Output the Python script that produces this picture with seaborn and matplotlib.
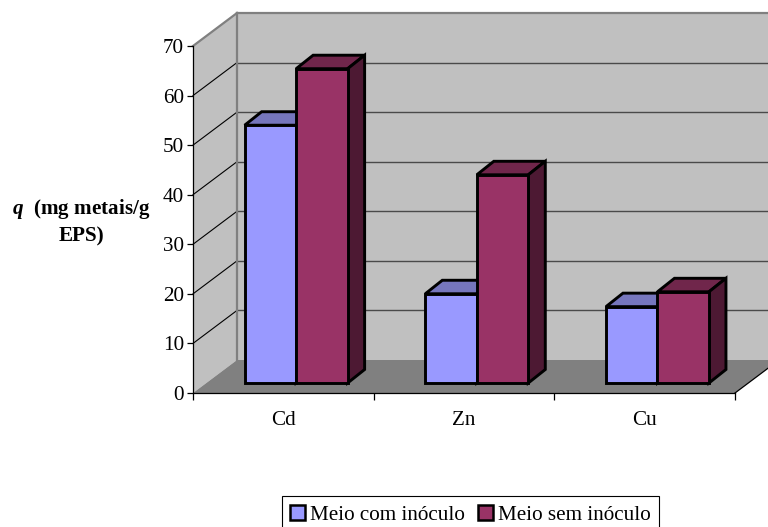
import matplotlib
matplotlib.use("Agg")
import matplotlib.pyplot as plt
import pandas as pd
import seaborn as sns
from matplotlib.patches import Polygon, Rectangle
from matplotlib.lines import Line2D
from matplotlib.transforms import Affine2D, IdentityTransform

metals = ["Cd", "Zn", "Cu"]
with_inoculum = [52, 18, 15.4]
without_inoculum = [63.4, 42, 18.4]
series_names = ["Meio com inóculo", "Meio sem inóculo"]
y_ticks = [0, 10, 20, 30, 40, 50, 60, 70]

face_colors = ["#9999FF", "#993366"]
top_colors = ["#7676BD", "#70264B"]
side_colors = ["#4D4D80", "#4D1933"]
WALL = "#C0C0C0"
FLOOR = "#808080"

# Pixel offsets of the fake 3D projection
WALL_DX, WALL_DY = 44, 33
BAR_SHIFT_X, BAR_SHIFT_Y = 12.8, 10
BAR_DX, BAR_DY = 17, 13.5

W, H = 768, 527
plt.rcParams["font.family"] = "Liberation Serif"
plt.rcParams["mathtext.fontset"] = "custom"
plt.rcParams["mathtext.bfit"] = "Liberation Serif:italic:bold"
plt.rcParams["mathtext.it"] = "Liberation Serif:italic"
plt.rcParams["mathtext.rm"] = "Liberation Serif"
plt.rcParams["mathtext.bf"] = "Liberation Serif:bold"

fig = plt.figure(figsize=(W / 100, H / 100), dpi=100, facecolor="white")
ax = fig.add_axes([193 / W, (H - 393) / H, (735 - 193) / W, (393 - 46) / H])

df = pd.DataFrame({
    "metal": metals * 2,
    "q": with_inoculum + without_inoculum,
    "serie": [series_names[0]] * 3 + [series_names[1]] * 3,
})
sns.barplot(data=df, x="metal", y="q", hue="serie", palette=face_colors, width=0.57,
            gap=0, edgecolor="black", linewidth=2.1, saturation=1, ax=ax, legend=False,
            errorbar=None)
ax.set_xlim(-0.5, 2.5)
ax.set_ylim(0, 70)
fig.canvas.draw()

to_px = ax.transData.transform


def px(x, y, dx=0, dy=0):
    a, b = to_px((x, y))
    return (a + dx, b + dy)


def add_poly(verts, zorder, **kw):
    ax.add_patch(Polygon(verts, closed=True, transform=IdentityTransform(),
                         clip_on=False, zorder=zorder, **kw))


def add_line(p, q, zorder, **kw):
    ax.add_line(Line2D([p[0], q[0]], [p[1], q[1]], transform=IdentityTransform(),
                       clip_on=False, zorder=zorder, **kw))


# Walls and floor
x0, x1 = ax.get_xlim()
y0, y1 = ax.get_ylim()
add_poly([px(x0, y0), px(x0, y0, WALL_DX, WALL_DY), px(x1, y0, WALL_DX, WALL_DY),
          px(x1, y1, WALL_DX, WALL_DY), px(x0, y1, WALL_DX, WALL_DY), px(x0, y1)],
         0.2, facecolor=WALL, edgecolor="none")
add_poly([px(x0, y0), px(x1, y0), px(x1, y0, WALL_DX, WALL_DY), px(x0, y0, WALL_DX, WALL_DY)],
         0.3, facecolor=FLOOR, edgecolor="none")
add_line(px(x1, y0), px(x1, y0, WALL_DX, WALL_DY), 0.4, color="black", lw=0.9)

# Gridlines across the side wall and the back wall
for v in y_ticks[1:]:
    if v < 70:
        add_line(px(x0, v), px(x0, v, WALL_DX, WALL_DY), 0.5, color="black", lw=0.8)
        add_line(px(x0, v, WALL_DX, WALL_DY), px(x1, v, WALL_DX, WALL_DY), 0.5,
                 color="#4A4A4A", lw=1.0)
add_line(px(x0, y1), px(x0, y1, WALL_DX, WALL_DY), 0.6, color=FLOOR, lw=1.6)
add_line(px(x0, y1, WALL_DX, WALL_DY), px(x1, y1, WALL_DX, WALL_DY), 0.6, color=FLOOR, lw=1.6)
add_line(px(x0, y0, WALL_DX, WALL_DY), px(x0, y1, WALL_DX, WALL_DY), 0.6, color=FLOOR, lw=1.6)

# Front faces come from the bar plot; lift them onto the floor and add top and side faces
shift = Affine2D().translate(BAR_SHIFT_X, BAR_SHIFT_Y)
bars = [p for p in ax.patches if isinstance(p, Rectangle)]
for i, bar in enumerate(bars[:6]):
    series = i // 3
    z = 2 + series
    left, right = bar.get_x(), bar.get_x() + bar.get_width()
    top = bar.get_height()
    bar.set_transform(ax.transData + shift)
    bar.set_clip_on(False)
    bar.set_zorder(z + 0.2)
    bar.set_joinstyle("miter")
    sx, sy = BAR_SHIFT_X, BAR_SHIFT_Y
    add_poly([px(left, top, sx, sy), px(right, top, sx, sy),
              px(right, top, sx + BAR_DX, sy + BAR_DY), px(left, top, sx + BAR_DX, sy + BAR_DY)],
             z, facecolor=top_colors[series], edgecolor="black", linewidth=2.1, joinstyle="miter")
    add_poly([px(right, 0, sx, sy), px(right, top, sx, sy),
              px(right, top, sx + BAR_DX, sy + BAR_DY), px(right, 0, sx + BAR_DX, sy + BAR_DY)],
             z, facecolor=side_colors[series], edgecolor="black", linewidth=2.1, joinstyle="miter")

# Axes: ticks sit on category boundaries, labels at category centres
sns.despine(ax=ax, top=True, right=True)
ax.patch.set_visible(False)
for s in ("left", "bottom"):
    ax.spines[s].set_linewidth(0.9)
    ax.spines[s].set_zorder(1)
ax.set_yticks(y_ticks)
ax.set_xticks([-0.5, 0.5, 1.5, 2.5], labels=[""] * 4)
ax.set_xticks([0, 1, 2], labels=metals, minor=True)
ax.tick_params(axis="x", which="major", length=5, width=0.9, color="black")
ax.tick_params(axis="x", which="minor", length=0, pad=13, labelsize=15.2)
ax.tick_params(axis="y", length=4.5, width=0.9, pad=2, labelsize=15.2)
ax.set_xlabel("")
ax.set_ylabel("")

fig.text(81 / W, 1 - 221.5 / H, r"$\mathbfit{q}$  (mg metais/g" + "\nEPS)", ha="center", va="center",
         fontsize=15.2, fontweight="bold", linespacing=1.37, multialignment="center")

handles = [Rectangle((0, 0), 1, 1, facecolor=c, edgecolor="black", linewidth=1.8) for c in face_colors]
leg = fig.legend(handles, series_names, loc="lower left", bbox_to_anchor=(282 / W, -6 / H),
                 bbox_transform=fig.transFigure, ncol=2, frameon=True, fancybox=False,
                 edgecolor="black", framealpha=1, fontsize=15.2, handlelength=0.7,
                 handleheight=0.7, handletextpad=0.25, columnspacing=0.6, borderpad=0.4,
                 borderaxespad=0)
leg.get_frame().set_linewidth(0.8)

fig.savefig("out.png", dpi=100)
